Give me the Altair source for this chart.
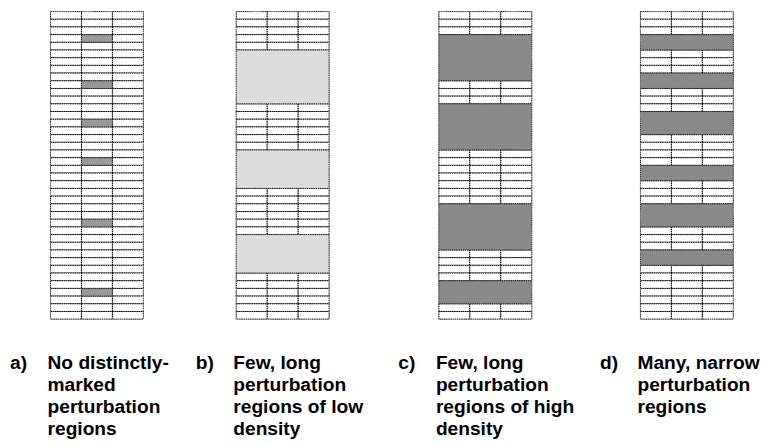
import altair as alt
import pandas as pd

# ---- data ----
n_rows = 40
n_cols = 3
panel_keys = ["a", "b", "c", "d"]
letters = ["a)", "b)", "c)", "d)"]
captions = [
    "No distinctly-\nmarked\nperturbation\nregions",
    "Few, long\nperturbation\nregions of low\ndensity",
    "Few, long\nperturbation\nregions of high\ndensity",
    "Many, narrow\nperturbation\nregions",
]
# panel a: single marked cells in the middle column (row index)
marked_rows_a = [3, 9, 14, 19, 27, 36]
# panels b-d: marked row ranges (first row, last row) spanning all columns
regions_b = [(5, 11), (18, 22), (29, 33)]
regions_c = [(3, 8), (12, 17), (25, 30), (35, 37)]
regions_d = [(3, 4), (8, 9), (13, 15), (20, 21), (25, 27), (31, 32)]

# ---- styles / layout ----
fills = {"a": "#999999", "b": "#dcdcdc", "c": "#8a8a8a", "d": "#8a8a8a"}
panel_widths = [188, 204.7, 204, 94]
grid_w = 94
grid_h = 311.3
font = "Liberation Sans"


def panel_frames(key):
    cells, marks = [], []
    if key == "a":
        marked = {(r, 1) for r in marked_rows_a}
        for r in range(n_rows):
            for c in range(n_cols):
                if (r, c) in marked:
                    marks.append(dict(x=c, x2=c + 1, y=r, y2=r + 1))
                else:
                    cells.append(dict(x=c, x2=c + 1, y=r, y2=r + 1))
    else:
        regs = {"b": regions_b, "c": regions_c, "d": regions_d}[key]
        covered = set()
        for s, e in regs:
            marks.append(dict(x=0, x2=n_cols, y=s, y2=e + 1))
            covered.update(range(s, e + 1))
        for r in range(n_rows):
            if r in covered:
                continue
            for c in range(n_cols):
                cells.append(dict(x=c, x2=c + 1, y=r, y2=r + 1))
    return pd.DataFrame(cells), pd.DataFrame(marks)


xs = alt.Scale(domain=[0, n_cols], range=[0, grid_w])
ys = alt.Scale(domain=[0, n_rows], range=[0, grid_h])


def enc(ch):
    return ch.encode(
        x=alt.X("x:Q", scale=xs, axis=None),
        x2="x2:Q",
        y=alt.Y("y:Q", scale=ys, axis=None),
        y2="y2:Q",
    )


panels = []
for i, key in enumerate(panel_keys):
    cells, marks = panel_frames(key)
    cell_layer = enc(
        alt.Chart(cells).mark_rect(
            fill="white", stroke="#000000", strokeWidth=1, strokeDash=[1.5, 0.7]
        )
    )
    mark_layer = enc(
        alt.Chart(marks).mark_rect(
            fill=fills[key], stroke="#222222", strokeWidth=1, strokeDash=[1.5, 0.7]
        )
    )
    border = enc(
        alt.Chart(pd.DataFrame([dict(x=0, x2=n_cols, y=0, y2=n_rows)])).mark_rect(
            fill="transparent", stroke="#888888", strokeWidth=1, strokeDash=[1, 1]
        )
    )
    tdf = pd.DataFrame([dict(letter=letters[i], caption=captions[i])])
    letter_layer = alt.Chart(tdf).mark_text(
        font=font, fontSize=19.4, fontWeight="bold", align="left",
        baseline="alphabetic", color="black",
    ).encode(text="letter:N", x=alt.value(-41), y=alt.value(361.3))
    caption_layer = alt.Chart(tdf).mark_text(
        font=font, fontSize=19.4, fontWeight="bold", align="left",
        baseline="alphabetic", lineBreak="\n", lineHeight=22.4, color="black",
    ).encode(text="caption:N", x=alt.value(-3), y=alt.value(361.3))
    layer = alt.layer(cell_layer, mark_layer, border, letter_layer, caption_layer).properties(
        width=panel_widths[i], height=grid_h
    )
    panels.append(layer)

chart = (
    alt.hconcat(*panels, spacing=0, bounds="flush")
    .properties(padding={"left": 1, "top": 0, "right": 0, "bottom": 0}, background="white")
    .configure_view(stroke="transparent")
)

chart.save("out.html", embed_options={"renderer": "svg", "actions": False})
